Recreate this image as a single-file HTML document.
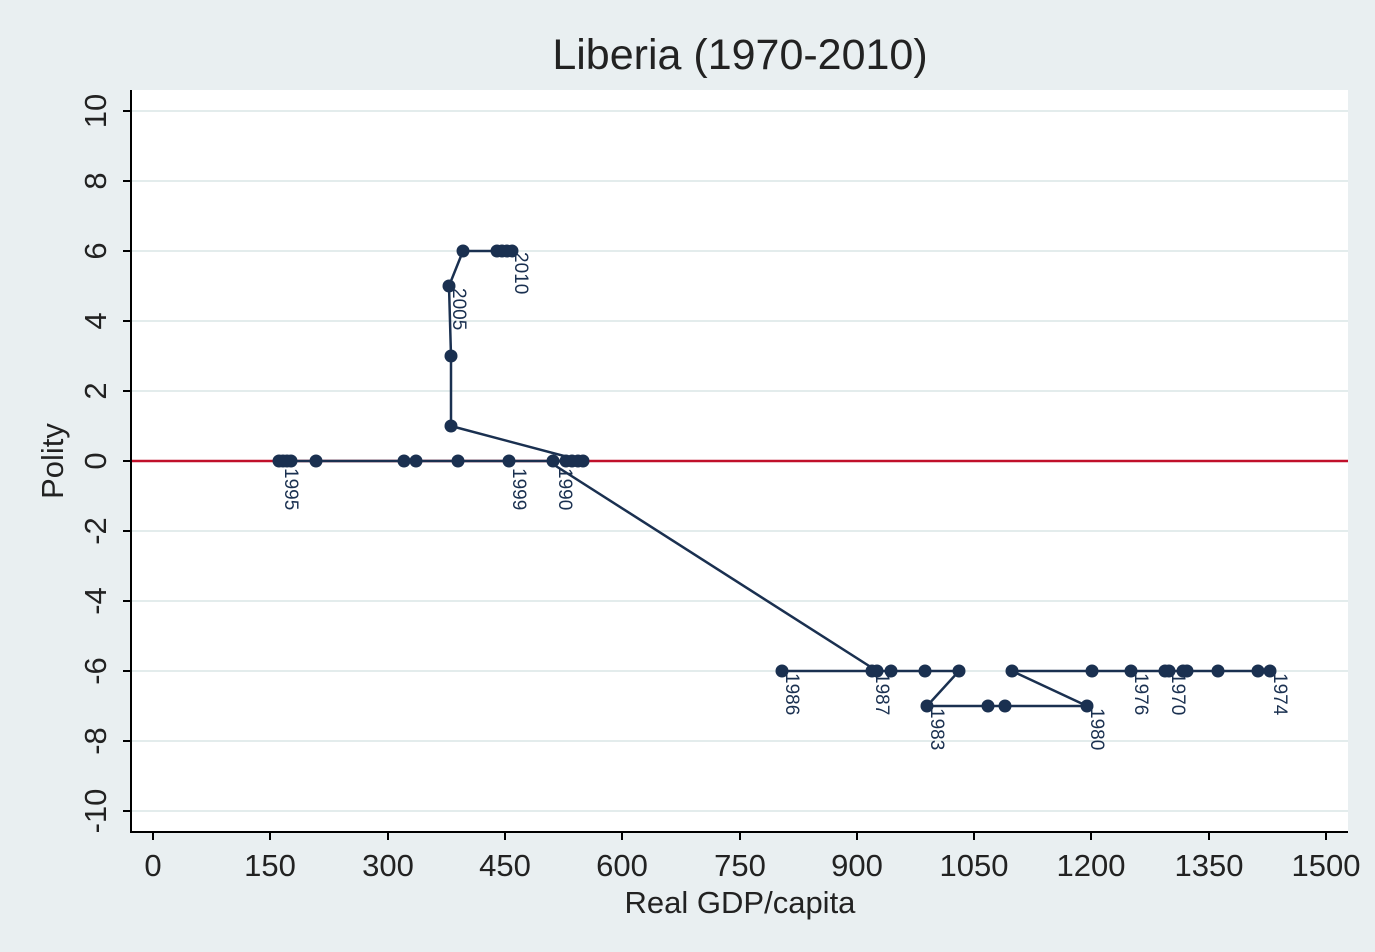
<!DOCTYPE html>
<html><head><style>body{margin:0;background:#e9eff1}svg{display:block}</style></head><body>
<svg width="1375" height="952" xmlns="http://www.w3.org/2000/svg" font-family="Liberation Sans, Arial, sans-serif">
<rect width="1375" height="952" fill="#e9eff1"/>
<rect x="131" y="90" width="1217" height="742" fill="#fff"/>
<g stroke="#e3ecec" stroke-width="2">
<line x1="131" x2="1348" y1="111" y2="111"/><line x1="131" x2="1348" y1="181" y2="181"/><line x1="131" x2="1348" y1="251" y2="251"/><line x1="131" x2="1348" y1="321" y2="321"/><line x1="131" x2="1348" y1="391" y2="391"/><line x1="131" x2="1348" y1="531" y2="531"/><line x1="131" x2="1348" y1="601" y2="601"/><line x1="131" x2="1348" y1="671" y2="671"/><line x1="131" x2="1348" y1="741" y2="741"/><line x1="131" x2="1348" y1="811" y2="811"/>
</g>
<line x1="131" x2="1348" y1="461" y2="461" stroke="#c0102a" stroke-width="2.5"/>
<g stroke="#000" stroke-width="2">
<line x1="131" y1="90" x2="131" y2="833"/><line x1="130" y1="832" x2="1348" y2="832"/>
<line x1="123" x2="131" y1="111" y2="111"/><line x1="123" x2="131" y1="181" y2="181"/><line x1="123" x2="131" y1="251" y2="251"/><line x1="123" x2="131" y1="321" y2="321"/><line x1="123" x2="131" y1="391" y2="391"/><line x1="123" x2="131" y1="461" y2="461"/><line x1="123" x2="131" y1="531" y2="531"/><line x1="123" x2="131" y1="601" y2="601"/><line x1="123" x2="131" y1="671" y2="671"/><line x1="123" x2="131" y1="741" y2="741"/><line x1="123" x2="131" y1="811" y2="811"/>
<line y1="832" y2="840" x1="153" x2="153"/><line y1="832" y2="840" x1="270" x2="270"/><line y1="832" y2="840" x1="388" x2="388"/><line y1="832" y2="840" x1="505" x2="505"/><line y1="832" y2="840" x1="622" x2="622"/><line y1="832" y2="840" x1="740" x2="740"/><line y1="832" y2="840" x1="857" x2="857"/><line y1="832" y2="840" x1="974" x2="974"/><line y1="832" y2="840" x1="1091" x2="1091"/><line y1="832" y2="840" x1="1209" x2="1209"/><line y1="832" y2="840" x1="1326" x2="1326"/>
</g>
<g font-size="31" fill="#222" text-anchor="middle">
<text x="153" y="876">0</text><text x="270" y="876">150</text><text x="388" y="876">300</text><text x="505" y="876">450</text><text x="622" y="876">600</text><text x="740" y="876">750</text><text x="857" y="876">900</text><text x="974" y="876">1050</text><text x="1091" y="876">1200</text><text x="1209" y="876">1350</text><text x="1326" y="876">1500</text>
<g transform="translate(106,0)">
<text transform="translate(0,111) rotate(-90)">10</text><text transform="translate(0,181) rotate(-90)">8</text><text transform="translate(0,251) rotate(-90)">6</text><text transform="translate(0,321) rotate(-90)">4</text><text transform="translate(0,391) rotate(-90)">2</text><text transform="translate(0,461) rotate(-90)">0</text><text transform="translate(0,531) rotate(-90)">-2</text><text transform="translate(0,601) rotate(-90)">-4</text><text transform="translate(0,671) rotate(-90)">-6</text><text transform="translate(0,741) rotate(-90)">-8</text><text transform="translate(0,811) rotate(-90)">-10</text>
</g>
<text x="740" y="913" font-size="31">Real GDP/capita</text>
<text transform="translate(63,461) rotate(-90)" font-size="31">Polity</text>
<text x="740" y="69" font-size="43">Liberia (1970-2010)</text>
</g>
<g stroke="#1a3050" stroke-width="2.5" fill="none">
<polyline points="279,461 583,461"/>
<polyline points="548,461 877,671"/>
<polyline points="583,461 451,426 451,356 449,286 463,251 512,251"/>
<polyline points="782,671 959,671 927,706 1087,706 1012,671 1270,671"/>
</g>
<g fill="#1a3050">
<circle cx="279" cy="461" r="6.5"/><circle cx="283" cy="461" r="6.5"/><circle cx="287" cy="461" r="6.5"/><circle cx="291" cy="461" r="6.5"/><circle cx="316" cy="461" r="6.5"/><circle cx="404" cy="461" r="6.5"/><circle cx="416" cy="461" r="6.5"/><circle cx="458" cy="461" r="6.5"/><circle cx="509" cy="461" r="6.5"/><circle cx="553" cy="461" r="6.5"/><circle cx="566" cy="461" r="6.5"/><circle cx="572" cy="461" r="6.5"/><circle cx="578" cy="461" r="6.5"/><circle cx="583" cy="461" r="6.5"/>
<circle cx="451" cy="426" r="6.5"/><circle cx="451" cy="356" r="6.5"/><circle cx="449" cy="286" r="6.5"/><circle cx="463" cy="251" r="6.5"/><circle cx="497" cy="251" r="6.5"/><circle cx="502" cy="251" r="6.5"/><circle cx="507" cy="251" r="6.5"/><circle cx="512" cy="251" r="6.5"/>
<circle cx="782" cy="671" r="6.5"/><circle cx="872" cy="671" r="6.5"/><circle cx="877" cy="671" r="6.5"/><circle cx="891" cy="671" r="6.5"/><circle cx="925" cy="671" r="6.5"/><circle cx="959" cy="671" r="6.5"/><circle cx="1012" cy="671" r="6.5"/><circle cx="1092" cy="671" r="6.5"/><circle cx="1131" cy="671" r="6.5"/><circle cx="1165" cy="671" r="6.5"/><circle cx="1169" cy="671" r="6.5"/><circle cx="1183" cy="671" r="6.5"/><circle cx="1187" cy="671" r="6.5"/><circle cx="1218" cy="671" r="6.5"/><circle cx="1258" cy="671" r="6.5"/><circle cx="1270" cy="671" r="6.5"/>
<circle cx="927" cy="706" r="6.5"/><circle cx="988" cy="706" r="6.5"/><circle cx="1005" cy="706" r="6.5"/><circle cx="1087" cy="706" r="6.5"/>
</g>
<g font-size="19" fill="#1a3050">
<text transform="translate(285,468) rotate(90)">1995</text>
<text transform="translate(513,468) rotate(90)">1999</text>
<text transform="translate(559,468) rotate(90)">1990</text>
<text transform="translate(453,288) rotate(90)">2005</text>
<text transform="translate(515,252) rotate(90)">2010</text>
<text transform="translate(786,673) rotate(90)">1986</text>
<text transform="translate(876,673) rotate(90)">1987</text>
<text transform="translate(931,708) rotate(90)">1983</text>
<text transform="translate(1091,708) rotate(90)">1980</text>
<text transform="translate(1135,673) rotate(90)">1976</text>
<text transform="translate(1172,673) rotate(90)">1970</text>
<text transform="translate(1274,673) rotate(90)">1974</text>
</g>
</svg>
</body></html>
